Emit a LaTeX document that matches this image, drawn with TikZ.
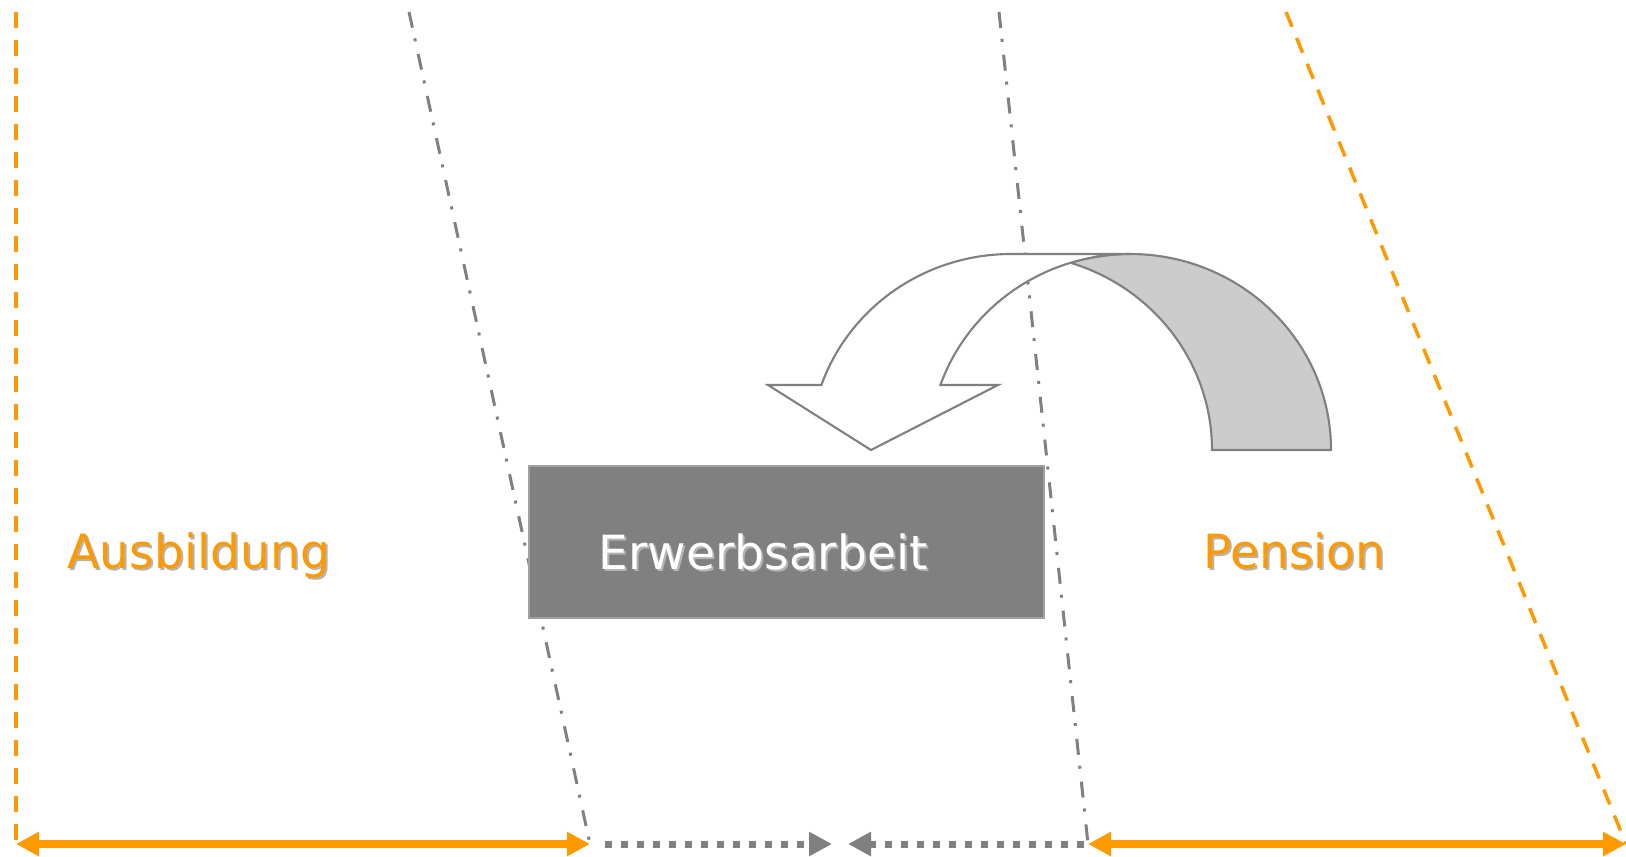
\documentclass[tikz,border=0pt]{standalone}
\usepackage{fontspec}
\setmainfont{DejaVu Sans}
\usetikzlibrary{arrows.meta}
\definecolor{orng}{HTML}{FF9900}
\definecolor{grey}{HTML}{808080}
\definecolor{lgrey}{HTML}{CCCCCC}
\definecolor{shd}{HTML}{B4B4B4}

\begin{document}
\begin{tikzpicture}[
	phase/.style={anchor=base west, inner sep=0pt, font=\fontsize{13.4}{16}\selectfont},
	edgeline/.style={line width=0.035cm, orng, dash pattern=on 0.16cm off 0.12cm},
	divider/.style={line width=0.03cm, grey, dash pattern=on 0.16cm off 0.11cm on 0.03cm off 0.13cm},
	phasearrow/.style={line width=0.08cm, orng, {Triangle[length=0.23cm,width=0.23cm]}-{Triangle[length=0.23cm,width=0.23cm]}},
	gapline/.style={line width=0.07cm, grey, dash pattern=on 0.07cm off 0.09cm, -{Triangle[length=0.23cm,width=0.23cm]}},
	uturn/.style={line width=0.6pt, draw=grey, x radius=2.01, y radius=1.96}
	]
				\useasboundingbox (0,0) rectangle (16.26,8.56);
				\coordinate (S0) at (0.16, 8.44);
				\coordinate (S1) at (4.09, 8.44);
				\coordinate (S2) at (9.99, 8.44);
				\coordinate (S3) at (12.86, 8.44);
				\coordinate (T0) at (0.16, 0.12);
				\coordinate (T1) at (5.90, 0.12);
				\coordinate (T2) at (10.88, 0.12);
				\coordinate (T3) at (16.26, 0.12);
				\coordinate (M1) at (8.32, 0.12);
				\coordinate (M2) at (8.48, 0.12);
				\draw[edgeline] (S0) -- (T0);
				\draw[divider] (S1) -- (T1);
				\draw[divider] (S2) -- (T2);
				\draw[edgeline] (S3) -- (T3);
				\node[draw=grey!75, fill=grey, minimum width=5.15cm, minimum height=1.52cm, inner sep=0pt] (Box) at (7.865, 3.14) {};
				\draw[uturn, fill=lgrey] (11.30,6.02) arc[start angle=90, end angle=0] -- (12.12,4.06) arc[start angle=0, end angle=72.78] arc[start angle=107.22, end angle=90] -- cycle;
				\draw[uturn, fill=white] (7.68,4.71) -- (8.214,4.71) arc[start angle=160.63, end angle=90] -- (11.30,6.02) arc[start angle=90, end angle=160.63] -- (9.98,4.71) -- (8.71,4.06) -- cycle;
				\node[phase, text=shd] (As) at (0.69, 2.86) {Ausbildung};
				\node[phase, text=orng] (A) at (0.67, 2.88) {Ausbildung};
				\node[phase, text=shd] (Es) at (6.00, 2.85) {Erwerbsarbeit};
				\node[phase, text=white] (E) at (5.98, 2.87) {Erwerbsarbeit};
				\node[phase, text=shd] (Ps) at (12.05, 2.86) {Pension};
				\node[phase, text=orng] (P) at (12.03, 2.88) {Pension};
				\draw[phasearrow] (T0) -- (T1);
				\draw[gapline, shorten <=0.15cm] (T1) -- (M1);
				\draw[gapline, shorten <=0.04cm] (T2) -- (M2);
				\draw[phasearrow] (T2) -- (T3);
\end{tikzpicture}
\end{document}
